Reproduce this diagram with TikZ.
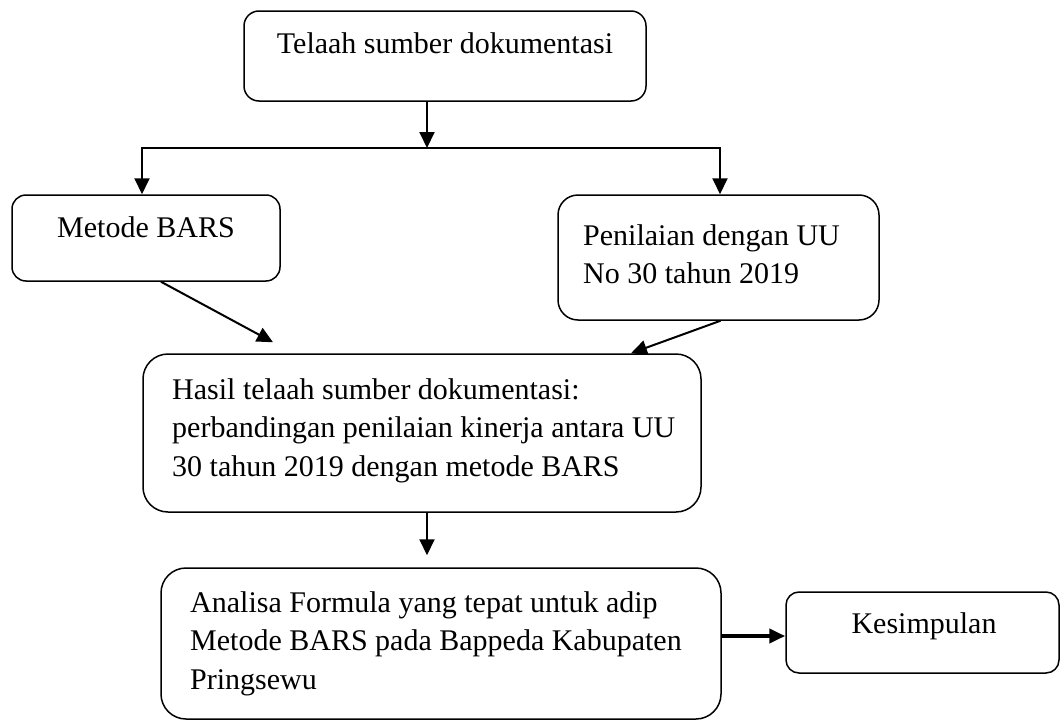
\documentclass[tikz,border=0pt]{standalone}
\usepackage{fontspec}
\setmainfont{Liberation Serif}
\usetikzlibrary{arrows.meta}

\begin{document}
\begin{tikzpicture}[x=1pt, y=-1pt,
    box/.style={draw, line width=1.5pt, inner sep=0pt},
    txt/.style={inner sep=0pt, font=\fontsize{30}{38.5}\selectfont},
    arr/.style={line width=2pt, -{Triangle[length=16pt, width=15pt]}},
    thickarr/.style={line width=4.5pt, -{Triangle[length=16pt, width=14pt]}}]
  \useasboundingbox (0,0) rectangle (1061,720);

  % boxes
  \node[box, rounded corners=15pt, minimum width=402pt, minimum height=90pt] (telaah) at (445,56) {};
  \node[box, rounded corners=14pt, minimum width=268pt, minimum height=86pt] (bars) at (146,238) {};
  \node[box, rounded corners=20pt, minimum width=321pt, minimum height=125pt] (uu) at (718.5,257.5) {};
  \node[box, rounded corners=25pt, minimum width=558pt, minimum height=158pt] (hasil) at (422,433) {};
  \node[box, rounded corners=25pt, minimum width=560pt, minimum height=151pt] (analisa) at (441,643.5) {};
  \node[box, rounded corners=13pt, minimum width=273pt, minimum height=81pt] (simpul) at (922.5,632.5) {};

  % texts (base = last line)
  \node[txt, anchor=base] (telaahtxt) at (445,53) {Telaah sumber dokumentasi};
  \node[txt, anchor=base] (barstxt) at (146,237) {Metode BARS};
  \node[txt, anchor=base west, align=left] (uutxt) at (583,283.5) {Penilaian dengan UU\\No 30 tahun 2019};
  \node[txt, anchor=base west, align=left] (hasiltxt) at (172,476) {Hasil telaah sumber dokumentasi:\\perbandingan penilaian kinerja antara UU\\30 tahun 2019 dengan metode BARS};
  \node[txt, anchor=base west, align=left] (analisatxt) at (190,689) {Analisa Formula yang tepat untuk adip\\Metode BARS pada Bappeda Kabupaten\\Pringsewu};
  \node[txt, anchor=base] (simpultxt) at (924,633) {Kesimpulan};

  % connectors
  \coordinate (split) at (427,148);
  \draw[arr] (telaah.south -| split) -- (split);
  \draw[arr] (split) -| ([xshift=-4pt]bars.north);
  \draw[arr] (split) -| ([xshift=1.5pt]uu.north);
  \draw[arr] ([xshift=15pt]bars.south) -- ([xshift=-149pt, yshift=11pt]hasil.north);
  \draw[arr] ([xshift=2pt]uu.south) -- ([xshift=209pt]hasil.north);
  \draw[arr] ([xshift=5pt]hasil.south) -- ([xshift=-14pt, yshift=12pt]analisa.north);
  \draw[thickarr] (analisa.east |- simpul.west) ++(0,3.5) coordinate (thickstart) -- ([yshift=-3.5pt]simpul.west);
\end{tikzpicture}
\end{document}
